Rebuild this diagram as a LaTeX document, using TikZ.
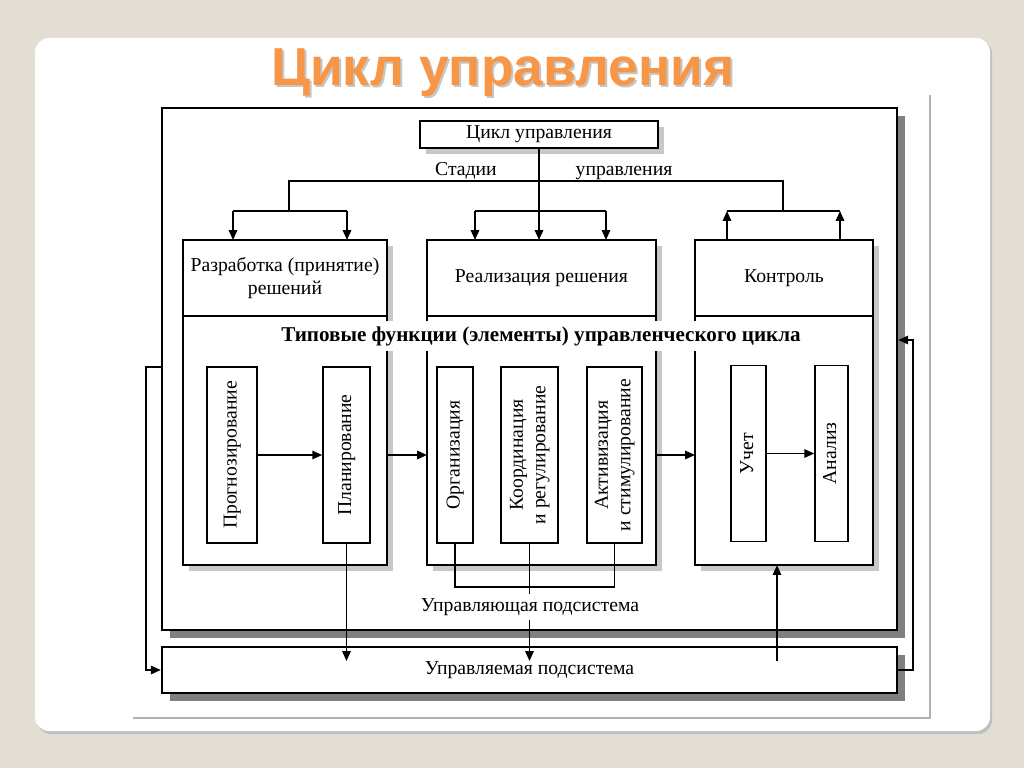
\documentclass[tikz,border=0pt]{standalone}
\usepackage{fontspec}
\setmainfont{Liberation Serif}
\newfontfamily\titlefont{Liberation Sans}
\usetikzlibrary{positioning,shadows,arrows.meta}
\definecolor{slidebg}{RGB}{227,222,212}
\definecolor{titleorange}{RGB}{247,150,70}
\definecolor{shadowdark}{RGB}{128,128,128}
\definecolor{shadowlight}{RGB}{200,200,200}
\newcommand{\vtext}[1]{\rotatebox{90}{\begin{tabular}{@{}c@{}}#1\end{tabular}}}

\begin{document}
\begin{tikzpicture}[x=0.025cm, y=-0.025cm,
		every node/.style={font=\fontsize{14}{16}\selectfont},
		bigbox/.style={draw, line width=1.6pt, fill=white, inner sep=0pt, drop shadow={shadow xshift=5.5pt, shadow yshift=-5.5pt, fill=shadowdark, opacity=1}},
		stagebox/.style={draw, line width=1.4pt, fill=white, inner sep=2pt, outer sep=0pt, align=center, drop shadow={shadow xshift=4pt, shadow yshift=-4pt, fill=shadowlight, opacity=1}},
		fnbox/.style={draw, line width=1.1pt, fill=white, inner sep=0pt, minimum height=4.4cm},
		conn/.style={line width=1.1pt},
		arr/.style={line width=1.1pt, -{Triangle[length=7pt,width=6pt]}},
		lbl/.style={inner sep=1pt}]
		\useasboundingbox (0,0) rectangle (1024,768);
		\fill[slidebg] (0,0) rectangle (1024,768);
		\fill[black!25, rounded corners=10pt] (37,40) rectangle (992,734);
		\fill[white, rounded corners=10pt] (35,38) rectangle (990,731);
		\node[text=black!22, font=\titlefont\bfseries\fontsize{38}{42}\selectfont] (titleshadow) at (505,75) {Цикл управления};
		\node[text=titleorange, font=\titlefont\bfseries\fontsize{38}{42}\selectfont] (title) at (503,73) {Цикл управления};
		\draw[black!30, line width=0.8pt] (133,718) -- (930,718) -- (930,95);

		\node[bigbox, minimum width=18.375cm, minimum height=13.05cm] (upr) at (529.5,369) {};
		\node[bigbox, minimum width=18.375cm, minimum height=1.15cm] (upd) at (529.5,670) {Управляемая подсистема};

		\node[stagebox, minimum width=5.95cm, minimum height=0.675cm, inner sep=0pt] (cycle) at (539,134.5) {Цикл управления};

		\node[stagebox, minimum width=5.1cm, minimum height=1.9cm] (devtop) at (285,278) {Разработка (принятие)\\решений};
		\node[stagebox, minimum width=5.1cm, minimum height=6.225cm, below=0pt of devtop] (devbot) {};
		\node[stagebox, minimum width=5.725cm, minimum height=1.9cm] (impltop) at (541.5,278) {Реализация решения};
		\node[stagebox, minimum width=5.725cm, minimum height=6.225cm, below=0pt of impltop] (implbot) {};
		\node[stagebox, minimum width=4.45cm, minimum height=1.9cm] (ctrltop) at (784,278) {Контроль};
		\node[stagebox, minimum width=4.45cm, minimum height=6.225cm, below=0pt of ctrltop] (ctrlbot) {};

		\node[lbl, fill=white, inner ysep=4pt, font=\bfseries\fontsize{15}{17}\selectfont] (types) at (541,336) {Типовые функции (элементы) управленческого цикла};

		\node[fnbox, minimum width=1.25cm] (progn) at (232,455) {\vtext{Прогнозирование}};
		\node[fnbox, minimum width=1.175cm] (plan) at (346.5,455) {\vtext{Планирование}};
		\node[fnbox, minimum width=0.9cm] (org) at (455,455) {\vtext{Организация}};
		\node[fnbox, minimum width=1.425cm] (coord) at (529.5,455) {\vtext{Координация\\и регулирование}};
		\node[fnbox, minimum width=1.375cm] (activ) at (614.5,455) {\vtext{Активизация\\и стимулирование}};
		\node[fnbox, minimum width=0.875cm] (uchet) at (748.5,453.5) {\vtext{Учет}};
		\node[fnbox, minimum width=0.825cm] (analiz) at (831.5,453.5) {\vtext{Анализ}};

		\coordinate (sL) at (289,181);
		\coordinate (sR) at (783,181);
		\coordinate (bL) at (289,211);
		\coordinate (bR) at (783,211);
		\coordinate (d1) at (233,211);
		\coordinate (d2) at (347,211);
		\coordinate (r1) at (475,211);
		\coordinate (r2) at (606,211);
		\coordinate (k1) at (727,211);
		\coordinate (k2) at (840,211);
		\coordinate (inY) at (0,661);
		\coordinate (fb) at (777,661);
		\coordinate (lf) at (146,367);
		\coordinate (rf) at (913,340);

		\draw[conn] (bL) -- (sL) -- (sR) -- (bR);
		\draw[conn] (d1) -- (d2);
		\draw[conn] (r1) -- (r2);
		\draw[conn] (k1) -- (k2);
		\node[lbl, above] (stlbl) at (466,181) {Стадии};
		\node[lbl, above] (uplbl) at (624,181) {управления};
		\draw[arr] (cycle.south) -- (cycle.south |- impltop.north);
		\draw[arr] (d1) -- (d1 |- devtop.north);
		\draw[arr] (d2) -- (d2 |- devtop.north);
		\draw[arr] (r1) -- (r1 |- impltop.north);
		\draw[arr] (r2) -- (r2 |- impltop.north);
		\draw[arr] (k1 |- ctrltop.north) -- (k1);
		\draw[arr] (k2 |- ctrltop.north) -- (k2);

		\draw[arr] (progn) -- (plan);
		\draw[arr] (devbot.east |- plan) -- (implbot.west |- plan);
		\draw[arr] (implbot.east |- activ) -- (ctrlbot.west |- activ);
		\draw[arr] (uchet) -- (analiz);

		\draw[conn] (org.south) -- ++(0,43) -| (activ.south);
		\draw[arr] (coord.south) -- (coord.south |- inY);
		\draw[arr] (plan.south) -- (plan.south |- inY);
		\draw[arr] (fb) -- (fb |- ctrlbot.south);
		\node[lbl, fill=white, inner ysep=3pt] (uprlbl) at (530,607) {Управляющая подсистема};

		\draw[arr] (upr.west |- lf) -- (lf) |- (upd.west);
		\draw[arr] (upd.east) -| (rf) -- (upr.east |- rf);
	\end{tikzpicture}
\end{document}
